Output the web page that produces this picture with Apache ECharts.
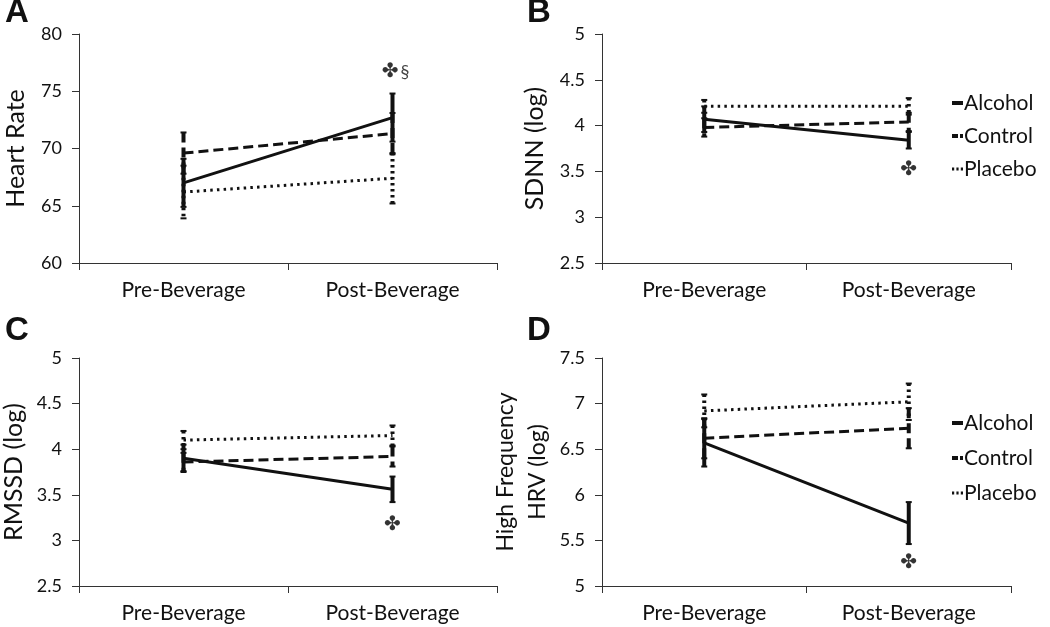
<!DOCTYPE html>
<html>
<head>
<meta charset="utf-8">
<script src="https://cdn.jsdelivr.net/npm/echarts/dist/echarts.min.js"></script>
<style>
html,body{margin:0;padding:0;background:#fff;}
#chart{width:1050px;height:627px;}
</style>
</head>
<body>
<div id="chart"></div>
<script>
// ---------- data ----------
const categories = ['Pre-Beverage', 'Post-Beverage'];
const groups = ['Alcohol', 'Control', 'Placebo'];
const panelLetters = ['A', 'B', 'C', 'D'];
const yNames = ['Heart Rate', 'SDNN (log)', 'RMSSD (log)', 'High Frequency\nHRV (log)'];
const yMin = [60, 2.5, 2.5, 5];
const yMax = [80, 5, 5, 7.5];
const yInterval = [5, 0.5, 0.5, 0.5];

// Heart Rate
const hrAlcohol = [67.0, 72.7];
const hrAlcoholErr = [2.1, 2.1];
const hrControl = [69.6, 71.3];
const hrControlErr = [1.8, 1.8];
const hrPlacebo = [66.2, 67.4];
const hrPlaceboErr = [2.3, 2.2];

// SDNN (log)
const sdnnAlcohol = [4.07, 3.84];
const sdnnAlcoholErr = [0.14, 0.09];
const sdnnControl = [3.98, 4.04];
const sdnnControlErr = [0.10, 0.10];
const sdnnPlacebo = [4.21, 4.21];
const sdnnPlaceboErr = [0.07, 0.09];

// RMSSD (log)
const rmssdAlcohol = [3.90, 3.56];
const rmssdAlcoholErr = [0.15, 0.14];
const rmssdControl = [3.86, 3.92];
const rmssdControlErr = [0.10, 0.11];
const rmssdPlacebo = [4.10, 4.15];
const rmssdPlaceboErr = [0.10, 0.11];

// High Frequency HRV (log)
const hfAlcohol = [6.57, 5.69];
const hfAlcoholErr = [0.26, 0.23];
const hfControl = [6.62, 6.73];
const hfControlErr = [0.22, 0.22];
const hfPlacebo = [6.92, 7.02];
const hfPlaceboErr = [0.18, 0.20];

// significance annotations (at Post-Beverage)
const annoText = ['{c|✤}{s|§}', '{c|✤}', '{c|✤}', '{c|✤}'];
const annoValue = [76.7, 3.52, 3.17, 5.25];

const panelData = [
  [[hrAlcohol, hrAlcoholErr], [hrControl, hrControlErr], [hrPlacebo, hrPlaceboErr]],
  [[sdnnAlcohol, sdnnAlcoholErr], [sdnnControl, sdnnControlErr], [sdnnPlacebo, sdnnPlaceboErr]],
  [[rmssdAlcohol, rmssdAlcoholErr], [rmssdControl, rmssdControlErr], [rmssdPlacebo, rmssdPlaceboErr]],
  [[hfAlcohol, hfAlcoholErr], [hfControl, hfControlErr], [hfPlacebo, hfPlaceboErr]]
];

// ---------- styling ----------
const FONT = 'Lato';
const INK = '#111';
const lineTypes = ['solid', [10, 5], [2.5, 4.2]];
const lineDashes = [null, [10, 5], [2.5, 3.5]];
const legendIcons = [
  'path://M0,0h11v4h-11z',
  'path://M0,0h6v4h-6zM8,0h3v4h-3z',
  'path://M0,0.5h2.2v3h-2.2zM4.4,0.5h2.2v3h-2.2zM8.8,0.5h2.2v3h-2.2zM0,0h0.01v4h-0.01z'
];
const grids = [
  {left: 79, top: 34, width: 418, height: 229},
  {left: 602, top: 34, width: 409, height: 229},
  {left: 79, top: 358, width: 418, height: 228},
  {left: 602, top: 358, width: 409, height: 228}
];
const nameGaps = [48, 52, 50, 48];
const nameSizes = [25, 25, 25, 23];
const nameLineHeights = [30, 30, 30, 32];
const letterPos = [[5, -4], [527, -4], [5, 314], [527, 314]];

const option = {
  animation: false,
  backgroundColor: '#fff',
  title: panelLetters.map((t, i) => ({
    text: t, left: letterPos[i][0], top: letterPos[i][1], padding: 0,
    textStyle: {fontFamily: 'Liberation Sans', fontWeight: 'bold', fontSize: 33, color: INK}
  })),
  legend: [
    {left: 952, top: 92, gap: 11}, {left: 952, top: 412, gap: 13}
  ].map(p => ({
    data: groups.map((n, k) => ({name: n, icon: legendIcons[k]})),
    orient: 'vertical', left: p.left, top: p.top, padding: 0,
    itemWidth: 11, itemHeight: 4, itemGap: p.gap, selectedMode: false,
    itemStyle: {color: INK, borderWidth: 0},
    textStyle: {fontFamily: FONT, fontSize: 21, color: INK, lineHeight: 22, padding: [0, 0, 0, -4]}
  })),
  grid: grids.map(g => Object.assign({outerBoundsMode: 'none', containLabel: false}, g)),
  xAxis: grids.map((g, i) => ({
    type: 'category', gridIndex: i, data: categories, boundaryGap: true,
    axisLine: {show: true, lineStyle: {color: '#333', width: 1}},
    axisTick: {show: true, length: 7, lineStyle: {color: '#333'}},
    axisLabel: {fontFamily: FONT, fontSize: 21, color: INK, margin: 17}
  })),
  yAxis: grids.map((g, i) => ({
    type: 'value', gridIndex: i, min: yMin[i], max: yMax[i], interval: yInterval[i],
    name: yNames[i], nameLocation: 'middle', nameGap: nameGaps[i], nameRotate: 90,
    nameTextStyle: {fontFamily: FONT, fontSize: nameSizes[i], color: INK, lineHeight: nameLineHeights[i]},
    axisLine: {show: true, lineStyle: {color: '#333', width: 1}},
    axisTick: {show: true, length: 7, lineStyle: {color: '#333'}},
    splitLine: {show: false},
    axisLabel: {fontFamily: FONT, fontSize: 18, color: INK, margin: 17}
  })),
  series: []
};

panelData.forEach((panel, p) => {
  panel.forEach((pair, g) => {
    const vals = pair[0], errs = pair[1];
    option.series.push({
      type: 'line', name: groups[g], xAxisIndex: p, yAxisIndex: p,
      data: vals, symbol: 'none', z: 3,
      lineStyle: {color: INK, width: 3, type: lineTypes[g]},
      itemStyle: {color: INK}
    });
    option.series.push({
      type: 'custom', name: groups[g] + ' error', xAxisIndex: p, yAxisIndex: p, z: 4,
      data: vals.map((v, k) => [k, v, errs[k]]),
      renderItem: function (params, api) {
        const x = api.value(0), v = api.value(1), e = api.value(2);
        const top = api.coord([x, v + e]);
        const bot = api.coord([x, v - e]);
        const style = {stroke: INK, lineWidth: 4, lineDash: lineDashes[g]};
        const capStyle = {stroke: INK, lineWidth: 2};
        return {
          type: 'group',
          children: [
            {type: 'line', shape: {x1: top[0], y1: top[1], x2: bot[0], y2: bot[1]}, style: style},
            {type: 'line', shape: {x1: top[0] - 3, y1: top[1], x2: top[0] + 3, y2: top[1]}, style: capStyle},
            {type: 'line', shape: {x1: bot[0] - 3, y1: bot[1], x2: bot[0] + 3, y2: bot[1]}, style: capStyle}
          ]
        };
      }
    });
  });
  option.series.push({
    type: 'scatter', name: 'annotation', xAxisIndex: p, yAxisIndex: p,
    data: [[1, annoValue[p]]], symbolSize: 1, itemStyle: {color: 'rgba(0,0,0,0)'},
    label: {
      show: true, position: 'inside', formatter: annoText[p],
      align: 'center', offset: p === 0 ? [3, 0] : [0, 0],
      rich: {
        c: {fontFamily: 'DejaVu Sans', fontSize: 20, fontWeight: 'bold', color: '#000'},
        s: {fontFamily: FONT, fontSize: 18, color: INK, padding: [0, 0, 0, 2]}
      }
    },
    z: 5
  });
});

const chart = echarts.init(document.getElementById('chart'), null, {renderer: 'canvas'});
chart.setOption(option);
</script>
</body>
</html>
